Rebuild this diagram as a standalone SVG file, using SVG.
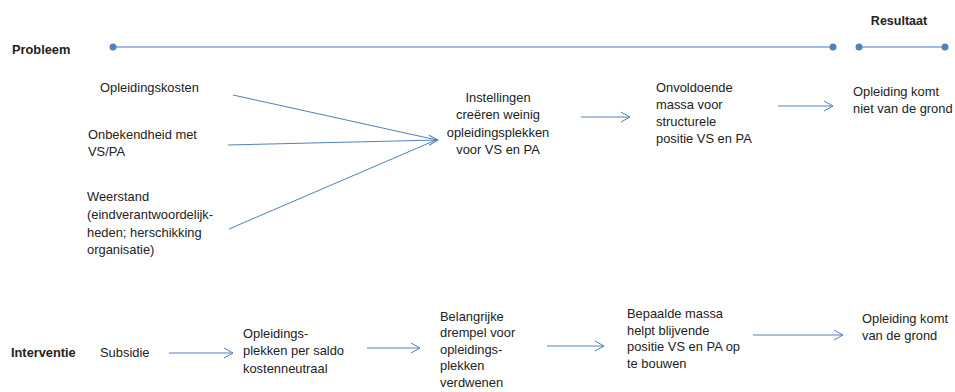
<svg xmlns="http://www.w3.org/2000/svg" width="955" height="392" viewBox="0 0 955 392">
<style>
text{font-family:"Liberation Sans",Arial,sans-serif;font-size:12.9px;fill:#222}
.b{font-weight:bold;font-size:12.8px}
.r{font-size:12.5px}
.c{text-anchor:middle}
.tl{stroke:#7fa3d8;stroke-width:1.6;fill:none}
.dot{fill:#4f81bd}
.ar{stroke:#4f81bd;stroke-width:1;fill:none;marker-end:url(#ah)}
.ln{stroke:#4f81bd;stroke-width:1;fill:none}
</style>
<defs>
<marker id="ah" markerUnits="userSpaceOnUse" markerWidth="12" markerHeight="12" refX="10" refY="6" orient="auto" viewBox="0 0 12 12">
<path d="M1,1 L10,6 L1,11" fill="none" stroke="#4f81bd" stroke-width="1"/>
</marker>
</defs>
<rect width="955" height="392" fill="#fff"/>
<g id="timeline">
<text id="probleem" class="b" x="12" y="54">Probleem</text>
<text id="resultaat" class="b r c" x="899" y="25">Resultaat</text>
<line class="tl" x1="113" y1="47" x2="833" y2="47"/>
<line class="tl" x1="859" y1="47" x2="945" y2="47"/>
<circle class="dot" cx="113" cy="47" r="3.5"/>
<circle class="dot" cx="833" cy="47" r="3.5"/>
<circle class="dot" cx="859" cy="47" r="3.5"/>
<circle class="dot" cx="945" cy="47" r="3.5"/>
<text id="interventie" class="b" x="11" y="357">Interventie</text>
</g>
<g id="connectors">
<line class="ln" x1="233" y1="95" x2="437" y2="140"/>
<line class="ar" x1="228" y1="145" x2="438" y2="140"/>
<line class="ln" x1="229" y1="229" x2="436" y2="140"/>
<line class="ar" x1="581" y1="117" x2="630" y2="117"/>
<line class="ar" x1="778" y1="106" x2="833" y2="106"/>
<line class="ar" x1="169" y1="353" x2="233" y2="353"/>
<line class="ar" x1="367" y1="348" x2="420" y2="348"/>
<line class="ar" x1="547" y1="346" x2="604" y2="346"/>
<line class="ar" x1="753" y1="335" x2="843" y2="335"/>
</g>
<g id="n-kosten"><text x="100" y="92">Opleidingskosten</text></g>
<g id="n-onbekend"><text x="88" y="139">Onbekendheid met</text><text x="88" y="156">VS/PA</text></g>
<g id="n-weerstand"><text x="87" y="201">Weerstand</text><text x="87" y="219">(eindverantwoordelijk-</text><text x="87" y="237">heden; herschikking</text><text x="87" y="254">organisatie)</text></g>
<g id="n-instellingen"><text class="c" x="498" y="102">Instellingen</text><text class="c" x="498" y="119">creëren weinig</text><text class="c" x="498" y="137">opleidingsplekken</text><text class="c" x="498" y="154">voor VS en PA</text></g>
<g id="n-onvoldoende"><text x="656" y="92">Onvoldoende</text><text x="656" y="109">massa voor</text><text x="656" y="126">structurele</text><text x="656" y="143">positie VS en PA</text></g>
<g id="n-resultaat1"><text x="853" y="96">Opleiding komt</text><text x="853" y="113">niet van de grond</text></g>
<g id="n-subsidie"><text x="100" y="357">Subsidie</text></g>
<g id="n-neutraal"><text x="243" y="338">Opleidings-</text><text x="243" y="355">plekken per saldo</text><text x="243" y="373">kostenneutraal</text></g>
<g id="n-drempel"><text x="440" y="321">Belangrijke</text><text x="440" y="337">drempel voor</text><text x="440" y="354">opleidings-</text><text x="440" y="370">plekken</text><text x="440" y="387">verdwenen</text></g>
<g id="n-massa"><text x="627" y="318">Bepaalde massa</text><text x="627" y="335">helpt blijvende</text><text x="627" y="351">positie VS en PA op</text><text x="627" y="368">te bouwen</text></g>
<g id="n-resultaat2"><text x="862" y="323">Opleiding komt</text><text x="862" y="340">van de grond</text></g>
</svg>
